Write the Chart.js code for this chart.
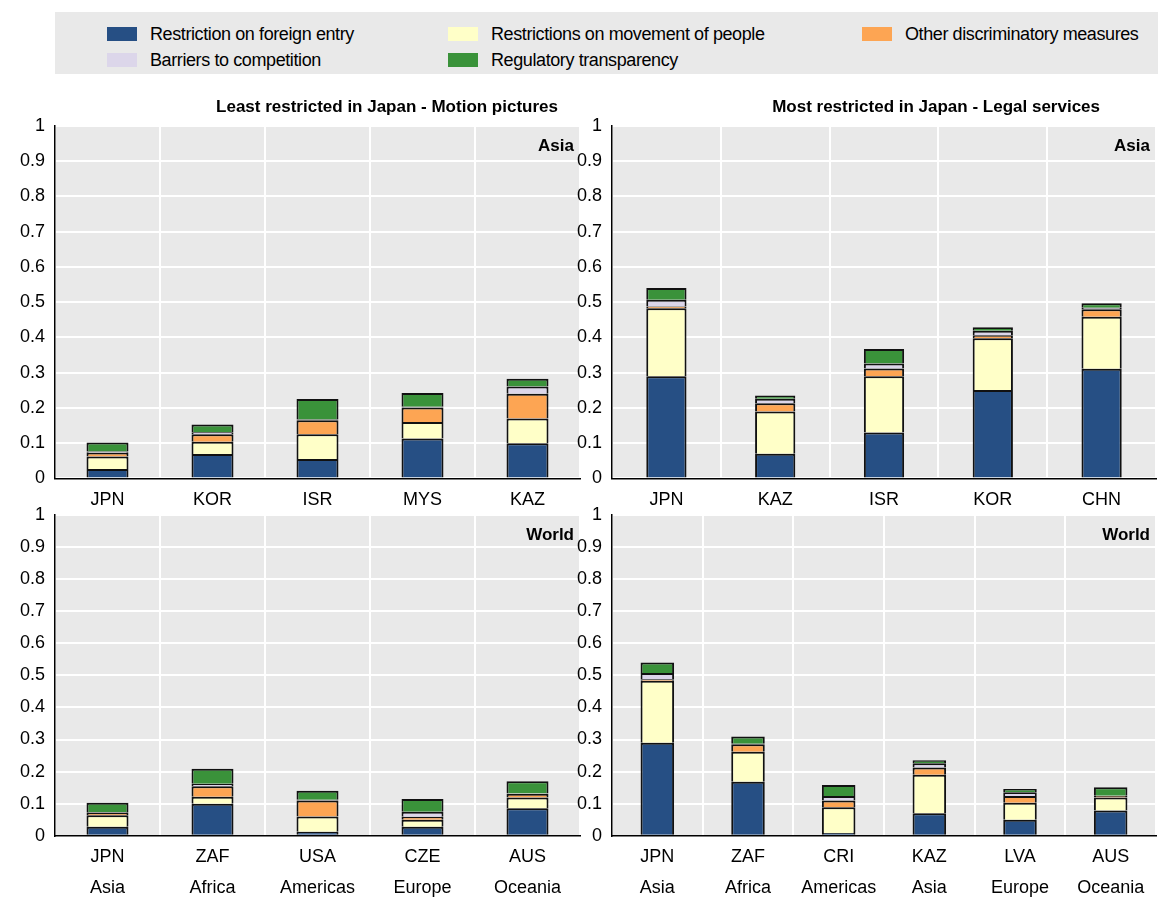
<!DOCTYPE html>
<html>
<head>
<meta charset="utf-8">
<script src="https://cdn.jsdelivr.net/npm/chart.js@4.4.0/dist/chart.umd.min.js"></script>
<style>
  body { margin: 0; background: #fff; width: 1158px; height: 898px; position: relative; overflow: hidden;
         font-family: "Liberation Sans Narrow", "Arial Narrow", "Liberation Sans", sans-serif; }
  #legend { position: absolute; left: 55px; top: 12px; width: 1103px; height: 62px; background: #e9e9e9; }
  .item { position: absolute; font-size: 18px; color: #000; line-height: 20px; white-space: nowrap; letter-spacing: -0.4px; }
  .sw { position: absolute; width: 30px; height: 14px; left: -43px; top: 3px; }
  canvas { position: absolute; }
</style>
</head>
<body>
<div id="legend"></div>
<canvas id="c1"></canvas>
<canvas id="c2"></canvas>
<canvas id="c3"></canvas>
<canvas id="c4"></canvas>
<script>
// series names and colours
const seriesNames = ["Restriction on foreign entry", "Restrictions on movement of people",
  "Other discriminatory measures", "Barriers to competition", "Regulatory transparency"];
const seriesColors = ["#264f84", "#ffffc8", "#fda553", "#dcd6ea", "#3a923a"];

// (A) Least restricted in Japan - Motion pictures, Asia
const motionAsiaLabels = ["JPN", "KOR", "ISR", "MYS", "KAZ"];
const motionAsiaEntry = [0.027, 0.069, 0.055, 0.113, 0.100];
const motionAsiaPeople = [0.035, 0.035, 0.070, 0.047, 0.070];
const motionAsiaOther = [0.011, 0.021, 0.040, 0.041, 0.070];
const motionAsiaComp = [0.003, 0.006, 0.002, 0.002, 0.021];
const motionAsiaTransp = [0.026, 0.022, 0.058, 0.039, 0.022];

// (B) Most restricted in Japan - Legal services, Asia
const legalAsiaLabels = ["JPN", "KAZ", "ISR", "KOR", "CHN"];
const legalAsiaEntry = [0.290, 0.070, 0.130, 0.251, 0.311];
const legalAsiaPeople = [0.193, 0.120, 0.160, 0.147, 0.148];
const legalAsiaOther = [0.005, 0.023, 0.022, 0.008, 0.021];
const legalAsiaComp = [0.019, 0.013, 0.014, 0.013, 0.004];
const legalAsiaTransp = [0.033, 0.009, 0.041, 0.010, 0.013];

// (C) Motion pictures, World
const motionWorldLabels = [["JPN", "Asia"], ["ZAF", "Africa"], ["USA", "Americas"], ["CZE", "Europe"], ["AUS", "Oceania"]];
const motionWorldEntry = [0.028, 0.100, 0.013, 0.028, 0.086];
const motionWorldPeople = [0.036, 0.022, 0.047, 0.022, 0.033];
const motionWorldOther = [0.007, 0.032, 0.050, 0.009, 0.012];
const motionWorldComp = [0.002, 0.008, 0.002, 0.016, 0.001];
const motionWorldTransp = [0.030, 0.047, 0.028, 0.040, 0.038];

// (D) Legal services, World
const legalWorldLabels = [["JPN", "Asia"], ["ZAF", "Africa"], ["CRI", "Americas"], ["KAZ", "Asia"], ["LVA", "Europe"], ["AUS", "Oceania"]];
const legalWorldEntry = [0.290, 0.168, 0.009, 0.070, 0.050, 0.079];
const legalWorldPeople = [0.193, 0.094, 0.080, 0.120, 0.053, 0.040];
const legalWorldOther = [0.005, 0.023, 0.021, 0.023, 0.021, 0.005];
const legalWorldComp = [0.019, 0.002, 0.014, 0.013, 0.012, 0.001];
const legalWorldTransp = [0.033, 0.022, 0.034, 0.009, 0.010, 0.026];

const FONT = "'Liberation Sans Narrow', 'Arial Narrow', 'Liberation Sans', sans-serif";

// ============== Legend ==============
const legendPos = [[95, 12], [436, 12], [850, 12], [95, 38], [436, 38]];
seriesNames.forEach((name, i) => {
  const d = document.createElement("div");
  d.className = "item";
  d.style.left = legendPos[i][0] + "px";
  d.style.top = legendPos[i][1] + "px";
  d.innerHTML = '<span class="sw" style="background:' + seriesColors[i] + '"></span>' + name;
  document.getElementById("legend").appendChild(d);
});

// ============== Plugins ==============
const bgPlugin = {
  id: "bg",
  beforeDraw(chart) {
    const { ctx, chartArea: a } = chart;
    ctx.save();
    ctx.fillStyle = "#e9e9e9";
    ctx.fillRect(a.left, a.top, a.right - a.left, a.bottom - a.top);
    ctx.restore();
  },
  afterDraw(chart, args, opts) {
    const { ctx, chartArea: a } = chart;
    ctx.save();
    ctx.fillStyle = "#000";
    ctx.textAlign = "right";
    ctx.textBaseline = "top";
    ctx.font = "bold 17px " + FONT;
    ctx.fillText(opts.tag, a.right - 6, a.top + 12);
    if (opts.title) {
      ctx.textBaseline = "alphabetic";
      ctx.fillText(opts.title, a.right - opts.titleInset, a.top - 14);
    }
    ctx.restore();
  }
};

function renderStacked(canvasId, box, labels, values, title, titleInset, tag, barPct, yWidth) {
  const cv = document.getElementById(canvasId);
  cv.style.left = box[0] + "px";
  cv.style.top = box[1] + "px";
  cv.style.width = box[2] + "px";
  cv.style.height = box[3] + "px";
  new Chart(cv, {
    type: "bar",
    data: {
      labels,
      datasets: values.map((v, i) => ({
        label: seriesNames[i],
        data: v,
        backgroundColor: seriesColors[i],
        borderColor: "#111",
        borderWidth: 2,
        barPercentage: barPct,
        categoryPercentage: 1
      }))
    },
    options: {
      responsive: false,
      animation: false,
      layout: { padding: { top: title ? 38 : 19, right: 2 } },
      plugins: {
        legend: { display: false },
        tooltip: { enabled: false },
        bg: { tag, title, titleInset }
      },
      scales: {
        x: {
          stacked: true,
          grid: { offset: true, color: "#ffffff", lineWidth: 2, drawTicks: false },
          border: { color: "#000", width: 1.5 },
          ticks: { color: "#000", font: { family: FONT, size: 18, lineHeight: 1.7 }, padding: 6 }
        },
        y: {
          stacked: true, min: 0, max: 1,
          afterFit: s => { s.width = yWidth; },
          grid: { color: "#ffffff", lineWidth: 2, drawTicks: false },
          border: { color: "#000", width: 1.5 },
          ticks: {
            stepSize: 0.1, color: "#000", font: { family: FONT, size: 18 }, padding: 10,
            callback: v => String(Math.round(v * 10) / 10)
          }
        }
      }
    },
    plugins: [bgPlugin]
  });
}

renderStacked("c1", [5, 88, 577, 433], motionAsiaLabels,
  [motionAsiaEntry, motionAsiaPeople, motionAsiaOther, motionAsiaComp, motionAsiaTransp],
  "Least restricted in Japan - Motion pictures", 22, "Asia", 0.4, 50);
renderStacked("c2", [565, 88, 593, 433], legalAsiaLabels,
  [legalAsiaEntry, legalAsiaPeople, legalAsiaOther, legalAsiaComp, legalAsiaTransp],
  "Most restricted in Japan - Legal services", 56, "Asia", 0.37, 47);
renderStacked("c3", [5, 494, 577, 415], motionWorldLabels,
  [motionWorldEntry, motionWorldPeople, motionWorldOther, motionWorldComp, motionWorldTransp],
  "", 0, "World", 0.4, 50);
renderStacked("c4", [565, 494, 593, 415], legalWorldLabels,
  [legalWorldEntry, legalWorldPeople, legalWorldOther, legalWorldComp, legalWorldTransp],
  "", 0, "World", 0.37, 47);
</script>
</body>
</html>
